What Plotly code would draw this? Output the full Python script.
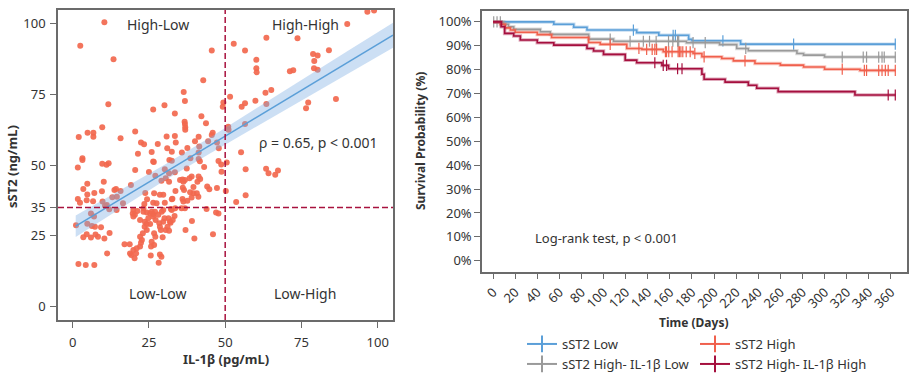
import plotly.graph_objects as go

W, H = 913, 374
FONT = "Noto Sans"
TXT = "#333333"
FRAME = "#6b6b6b"

# ---------------- Left panel data: IL-1b vs sST2 ----------------
il1b = [10.4, 2.5, 13.4, 45.6, 42.8, 11.7, 36.4, 36.8, 26.4, 30.1, 33.5, 42.2, 36.7, 36.8, 36.9, 36.9,
        43.7, 9.7, 4.9, 6.8, 6.8, 2.0, 15.7, 20.5, 30.8, 33.5, 41.3, 45.9, 45.6, 40.1, 22.4, 23.4,
        27.9, 31.0, 32.5, 33.8, 25.9, 21.4, 37.6, 35.8, 41.5, 44.4, 47.3, 47.9, 38.6, 41.3, 41.3, 26.4,
        26.6, 31.7, 32.5, 3.2, 3.2, 1.7, 9.7, 11.1, 11.8, 41.7, 43.1, 47.8, 48.7, 50.5, 48.8, 20.5,
        25.0, 27.1, 30.2, 30.5, 31.6, 33.5, 37.4, 39.0, 36.0, 36.8, 35.2, 36.3, 38.3, 41.3, 40.9, 41.8,
        10.2, 4.8, 19.1, 29.1, 31.6, 36.1, 36.5, 33.7, 39.6, 44.1, 44.8, 47.3, 38.5, 39.6, 40.7, 3.5,
        4.8, 7.1, 9.6, 13.7, 14.2, 15.7, 13.0, 14.5, 23.8, 26.7, 28.6, 29.7, 24.4, 32.7, 36.0, 36.3,
        37.6, 41.2, 39.0, 1.7, 2.4, 4.6, 6.7, 9.8, 11.2, 16.5, 14.4, 12.0, 10.6, 19.9, 19.7, 20.4,
        19.9, 21.2, 23.5, 23.2, 26.4, 27.5, 30.2, 32.5,
        50.2, 53.6, 56.7, 55.2, 56.7, 56.5, 55.4, 56.5, 59.9, 49.4, 49.2, 51.6, 63.2, 65.1, 63.5, 52.8,
        56.5, 63.5, 60.2, 60.2, 60.3, 73.7, 71.2, 72.3, 78.8, 79.2, 80.3, 79.1, 80.3, 84.0, 90.0, 96.6,
        98.8, 76.5, 77.2, 86.3, 63.4, 64.2, 66.4, 67.3, 51.0, 51.1,
        1.1, 4.8, 6.0, 7.0, 6.3, 7.3, 9.3, 3.5, 4.6, 6.0, 7.5, 8.3, 10.4, 12.1, 1.9, 4.3,
        7.1, 11.3, 17.0, 18.7, 19.2, 20.3,
        23.2, 24.3, 25.4, 26.4, 25.9, 27.0, 29.2, 29.7, 28.1, 32.2, 33.6, 35.7, 36.8, 43.9, 47.0, 19.9,
        21.0, 22.1, 18.8, 20.8, 22.4, 22.7, 22.1, 23.0, 24.3, 23.6, 25.7, 25.9, 26.7, 27.1, 26.7, 25.6,
        28.6, 28.2, 29.1, 29.5, 30.5, 31.1, 31.9, 31.4, 30.1, 29.7, 28.9, 28.6, 33.4, 32.8, 32.5, 37.0,
        39.1, 39.9, 46.0, 47.8, 22.1, 23.7, 24.3, 24.8, 25.4, 26.4, 27.2, 28.4, 31.6, 32.1]
sst2 = [100.4, 92.1, 87.3, 90.4, 79.9, 71.4, 75.8, 72.6, 69.6, 71.1, 68.2, 67.2, 65.3, 64.5, 63.3, 62.4,
        64.7, 63.3, 61.4, 61.4, 60.0, 59.9, 59.4, 61.8, 60.1, 60.2, 60.0, 61.4, 60.6, 58.4, 57.9, 57.3,
        57.4, 55.9, 54.7, 57.9, 54.6, 54.0, 56.0, 54.4, 56.5, 58.4, 57.9, 55.9, 52.4, 54.4, 52.1, 51.2,
        51.1, 51.8, 51.5, 52.4, 51.8, 49.1, 50.4, 50.1, 50.6, 51.3, 49.3, 51.4, 50.2, 50.9, 47.6, 48.2,
        47.5, 46.2, 48.5, 45.3, 47.1, 47.4, 48.8, 45.9, 44.9, 44.7, 44.7, 44.1, 45.3, 45.9, 44.1, 45.1,
        44.1, 43.4, 42.9, 44.4, 44.1, 42.0, 41.2, 40.8, 42.2, 42.4, 41.4, 41.9, 40.4, 40.0, 40.0, 41.5,
        39.6, 40.1, 40.7, 41.2, 41.5, 40.8, 38.6, 38.8, 40.1, 40.0, 39.5, 39.5, 37.9, 38.1, 38.0, 37.1,
        37.4, 38.8, 38.5, 38.0, 36.7, 37.6, 37.2, 37.1, 35.9, 36.5, 34.1, 34.4, 35.6, 34.1, 32.9, 32.4,
        31.8, 33.8, 36.2, 34.7, 36.7, 36.5, 36.7, 37.9,
        40.8, 36.9, 39.3, 54.5, 48.5, 64.5, 70.6, 71.8, 72.7, 72.1, 70.6, 74.1, 75.5, 76.5, 71.5, 92.8,
        90.4, 94.9, 87.1, 84.1, 82.7, 94.7, 83.1, 83.4, 89.2, 86.7, 88.6, 84.1, 83.6, 90.5, 99.8, 104.1,
        104.5, 70.0, 72.1, 73.3, 48.7, 47.1, 46.6, 48.1, 63.5, 62.4,
        28.7, 29.3, 32.9, 31.8, 28.5, 28.2, 28.0, 24.5, 25.6, 24.4, 25.5, 24.7, 24.1, 26.0, 15.1, 14.7,
        14.7, 18.8, 22.0, 22.0, 18.2, 17.1,
        33.5, 33.2, 32.9, 32.6, 33.5, 33.5, 33.5, 34.1, 32.4, 34.5, 34.7, 34.7, 34.7, 34.5, 33.2, 20.0,
        20.6, 21.2, 18.8, 18.8, 22.6, 23.5, 24.7, 25.9, 27.1, 28.2, 21.2, 22.9, 21.8, 24.7, 25.9, 18.1,
        18.4, 15.5, 17.6, 24.5, 27.1, 28.2, 30.0, 31.2, 31.2, 30.0, 27.1, 28.2, 32.0, 30.6, 34.1, 27.1,
        30.2, 24.1, 25.6, 32.9, 30.6, 30.0, 29.2, 31.2, 29.2, 31.8, 30.6, 29.4, 26.8, 29.6]

fit_x = [1, 105]
fit_y = [28.4, 95.8]
band_x = [1, 15, 30, 45, 60, 75, 90, 105]
band_lo = [24.6, 34.3, 44.4, 54.1, 63.5, 72.8, 82.1, 91.4]
band_hi = [32.2, 40.7, 50.0, 59.7, 69.7, 80.0, 90.1, 100.2]

x_ticks_left = [0, 25, 50, 75, 100]
y_ticks_left = [0, 25, 35, 50, 75, 100]
il1b_cut = 50
sst2_cut = 35

# ---------------- Right panel data: Kaplan-Meier ----------------
km_names = ["sST2 Low", "sST2 High", "sST2 High- IL-1\u03b2 Low", "sST2 High- IL-1\u03b2 High"]
km_colors = ["#5B9FD8", "#F0604D", "#9A9A9A", "#A50F3E"]

low_t = [0, 55, 73, 85, 130, 150, 177, 180, 224, 364.5]
low_s = [100, 99.0, 97.8, 96.6, 95.5, 94.4, 92.7, 92.1, 90.7, 90.7]
low_ct = [127, 163, 165, 208, 272, 364]
low_cs = [96.6, 94.4, 94.4, 92.1, 90.7, 90.7]

high_t = [0, 6.6, 11, 15.7, 20, 40, 53, 86.5, 97, 121, 134.7, 154, 181, 189, 207, 217.5, 237, 260, 281, 300, 332, 364.5]
high_s = [100, 99.0, 97.5, 96.6, 95.7, 94.7, 93.5, 91.4, 90.6, 88.9, 88.5, 87.5, 86.8, 85.4, 84.7, 83.7, 82.6, 81.9, 81.1, 80.2, 79.7, 79.7]
high_ct = [106, 132, 139, 144, 146.4, 148, 156, 157, 159, 162, 167.5, 168.7, 170, 171.7, 174.8, 178.4,
           182.6, 191, 228, 316, 336, 338, 349, 352, 355, 357.6, 364]
high_cs = [90.6, 88.9, 88.5, 88.5, 88.5, 88.5, 87.5, 87.5, 87.5, 87.5, 87.5, 87.5, 87.5, 87.5, 87.5, 87.5,
           86.8, 85.4, 83.7, 80.2, 79.7, 79.7, 79.7, 79.7, 79.7, 79.7, 79.7]

hl_t = [0, 9.6, 14, 18.7, 42.8, 51.8, 86.5, 109, 175, 205, 220.5, 231, 275, 281, 300, 364.5]
hl_s = [100, 99.0, 98.0, 96.9, 95.9, 94.8, 92.8, 91.9, 91.3, 90.5, 88.9, 87.9, 86.8, 86.1, 85.3, 85.3]
hl_ct = [0.6, 3.6, 6.6, 106, 124, 136, 141.6, 147.6, 158.8, 162.7, 167, 168, 181, 192, 228.7,
         316, 335, 338, 349, 352, 354, 364]
hl_cs = [100, 100, 100, 92.8, 91.9, 91.9, 91.9, 91.9, 91.9, 91.9, 91.9, 91.9, 91.3, 91.3, 88.9,
         85.3, 85.3, 85.3, 85.3, 85.3, 85.3, 85.3]

hh_t = [0, 7.5, 10.5, 18.7, 24.7, 40, 55, 85, 91, 100, 119.6, 130, 152.8, 158.8, 189, 191, 210, 231, 238.6, 258, 327.5, 364.5]
hh_s = [100, 98.0, 95.2, 94.1, 92.4, 91.3, 90.3, 88.9, 87.8, 86.4, 84.0, 82.9, 81.8, 80.4, 78.1, 76.0, 74.8, 73.5, 72.2, 70.8, 69.4, 69.4]
hh_ct = [146.4, 154, 157, 167, 171, 357.6, 364]
hh_cs = [82.9, 81.8, 81.8, 80.4, 80.4, 69.4, 69.4]

km_t = [low_t, high_t, hl_t, hh_t]
km_s = [low_s, high_s, hl_s, hh_s]
km_ct = [low_ct, high_ct, hl_ct, hh_ct]
km_cs = [low_cs, high_cs, hl_cs, hh_cs]
km_draw_order = [0, 2, 1, 3]

x_ticks_right = list(range(0, 361, 20))
y_ticks_right = list(range(0, 101, 10))
y_ticktext_right = ["%d%%" % v for v in y_ticks_right]

fig = go.Figure()

# scatter points
fig.add_trace(go.Scatter(x=il1b, y=sst2, mode="markers", xaxis="x", yaxis="y",
                         marker=dict(size=6, color="#F2684E", opacity=0.92, line=dict(width=0)),
                         showlegend=False, hoverinfo="skip"))
# confidence band
fig.add_trace(go.Scatter(x=band_x, y=band_lo, mode="lines", line=dict(width=0), xaxis="x", yaxis="y",
                         showlegend=False, hoverinfo="skip"))
fig.add_trace(go.Scatter(x=band_x, y=band_hi, mode="lines", line=dict(width=0), fill="tonexty",
                         fillcolor="rgba(120,170,225,0.38)", xaxis="x", yaxis="y",
                         showlegend=False, hoverinfo="skip"))
fig.add_trace(go.Scatter(x=fit_x, y=fit_y, mode="lines", line=dict(color="#5B9FD8", width=1.5),
                         xaxis="x", yaxis="y", showlegend=False, hoverinfo="skip"))

# KM curves
def rgba(hexc, a):
    h = hexc.lstrip("#")
    return "rgba(%d,%d,%d,%.2f)" % (int(h[0:2], 16), int(h[2:4], 16), int(h[4:6], 16), a)

for i in km_draw_order:
    fig.add_trace(go.Scatter(x=km_t[i], y=km_s[i], mode="lines", line=dict(color=rgba(km_colors[i], 0.35), width=3.5, shape="hv"),
                             xaxis="x2", yaxis="y2", showlegend=False, hoverinfo="skip"))
    fig.add_trace(go.Scatter(x=km_t[i], y=km_s[i], mode="lines", line=dict(color=km_colors[i], width=1.6, shape="hv"),
                             xaxis="x2", yaxis="y2", showlegend=False, hoverinfo="skip"))
    fig.add_trace(go.Scatter(x=km_ct[i], y=km_cs[i], mode="markers",
                             marker=dict(symbol="line-ns-open", size=8, color=km_colors[i],
                                         line=dict(color=km_colors[i], width=1.2)),
                             xaxis="x2", yaxis="y2", showlegend=False, hoverinfo="skip"))

# legend entries
for i in range(4):
    fig.add_trace(go.Scatter(x=[None], y=[None], mode="lines+markers", name=km_names[i],
                             line=dict(color=km_colors[i], width=2),
                             marker=dict(symbol="line-ns-open", size=12, color=km_colors[i],
                                         line=dict(color=km_colors[i], width=2)),
                             xaxis="x2", yaxis="y2", legend="legend" if i < 2 else "legend2"))

axis_font = dict(family=FONT, size=13, color=TXT)
common = dict(showline=True, mirror=True, linecolor=FRAME, linewidth=1.5, showgrid=False, zeroline=False,
              ticks="outside", ticklen=6, tickcolor=FRAME, tickwidth=1.3, tickfont=axis_font)

leg_common = dict(orientation="h", x=522 / W, xanchor="left", yanchor="middle", traceorder="normal",
                  entrywidth=128, entrywidthmode="pixels", font=dict(family=FONT, size=13, color=TXT),
                  bgcolor="rgba(0,0,0,0)", itemwidth=30)

fig.update_layout(
    width=W, height=H, margin=dict(l=0, r=0, t=0, b=0, autoexpand=False),
    paper_bgcolor="white", plot_bgcolor="white",
    font=dict(family=FONT, size=13, color=TXT),
    xaxis=dict(domain=[58 / W, 393 / W], range=[-4.8, 105], tickvals=x_ticks_left, anchor="y",
               ticklabelstandoff=4, **common),
    yaxis=dict(domain=[(H - 320) / H, (H - 10) / H], range=[-4.7, 104.7], tickvals=y_ticks_left, anchor="x",
               ticklabelstandoff=2, **common),
    xaxis2=dict(domain=[482 / W, 907 / W], range=[-10, 374.6], tickvals=x_ticks_right, tickangle=-45, anchor="y2", **common),
    yaxis2=dict(domain=[(H - 271.7) / H, (H - 10.7) / H], range=[-4.6, 104.7], tickvals=y_ticks_right,
                ticktext=y_ticktext_right, anchor="x2", **common),
    legend=dict(y=(H - 344) / H, **leg_common),
    legend2=dict(y=(H - 364) / H, **leg_common),
)

# cut-off dashed lines
cut_style = dict(color="#A8123E", width=1.5, dash="6px,3px")
fig.add_shape(type="line", xref="x", yref="y domain", x0=il1b_cut, x1=il1b_cut, y0=0, y1=1, line=cut_style)
fig.add_shape(type="line", xref="x domain", yref="y", x0=0, x1=1, y0=sst2_cut, y1=sst2_cut, line=cut_style)

ann = []
for txt, x, y in [("High-Low", 28, 99.6), ("High-High", 76.2, 99.6), ("Low-Low", 28, 4.7), ("Low-High", 76, 4.7),
                  ("\u03c1 = 0.65, p < 0.001", 80.7, 57.9)]:
    ann.append(dict(text=txt, x=x, y=y, xref="x", yref="y", showarrow=False, xanchor="center", yanchor="middle",
                    font=dict(family=FONT, size=14, color=TXT)))
ann.append(dict(text="Log-rank test, p < 0.001", x=36, y=9.6, xref="x2", yref="y2", xanchor="left", yanchor="middle",
                showarrow=False, font=dict(family=FONT, size=13, color=TXT)))
# axis titles
title_specs = [("<b>sST2 (ng/mL)</b>", 12, 167, -90, 13),
               ("<b>IL-1\u03b2 (pg/mL)</b>", 226, 359, 0, 13),
               ("<b>Survival Probability (%)</b>", 421, 141, -90, 12),
               ("<b>Time (Days)</b>", 693, 322, 0, 12)]
for txt, px, py, ang, fs in title_specs:
    ann.append(dict(text=txt, x=px / W, y=(H - py) / H, xref="paper", yref="paper", textangle=ang,
                    xanchor="center", yanchor="middle", showarrow=False, font=dict(family=FONT, size=fs, color=TXT)))
fig.update_layout(annotations=ann)

fig.write_html("out.html", config={"displayModeBar": False},
               post_script="document.body.style.margin='0';document.body.style.overflow='hidden';")
